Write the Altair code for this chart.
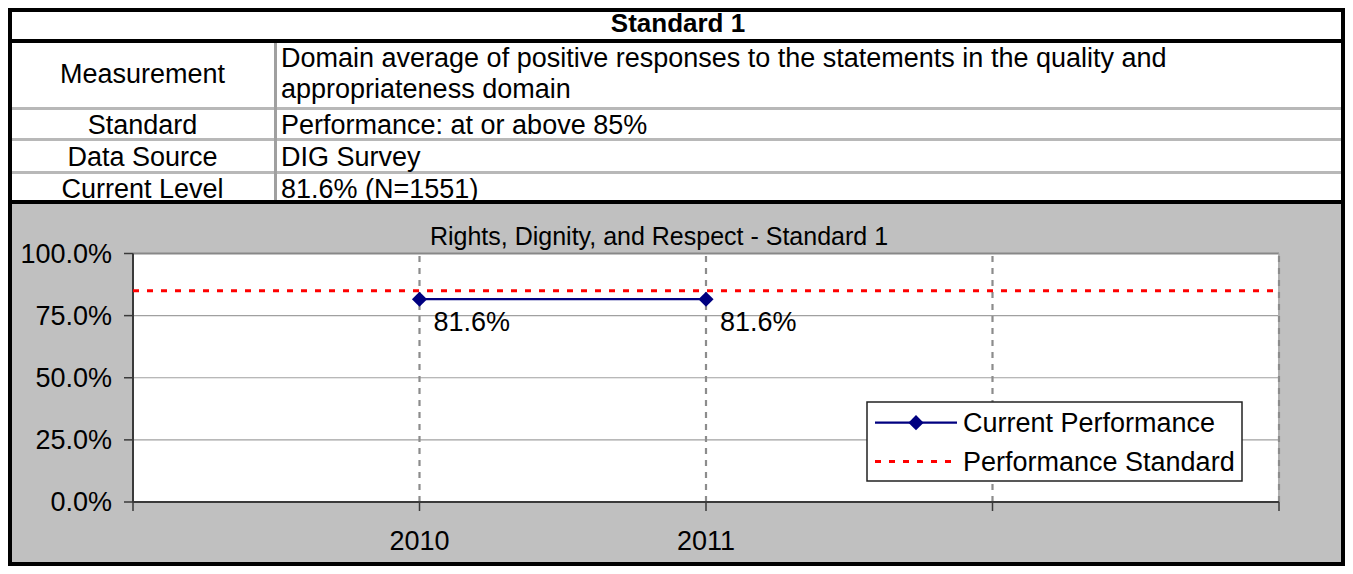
import altair as alt
import pandas as pd

# ---------------- data ----------------
table_title = "Standard 1"
row_labels = ["Measurement", "Standard", "Data Source", "Current Level"]
row_values = [
    "Domain average of positive responses to the statements in the quality and\nappropriateness domain",
    "Performance: at or above 85%",
    "DIG Survey",
    "81.6% (N=1551)",
]
chart_title = "Rights, Dignity, and Respect - Standard 1"
years = [2010, 2011]
current_performance = [0.816, 0.816]
performance_standard = 0.85
x_ticks = [2009, 2010, 2011, 2012, 2013]
x_label_years = [2010, 2011]
x_label_text = ["2010", "2011"]
y_ticks = [0.0, 0.25, 0.5, 0.75, 1.0]
series_names = ["Current Performance", "Performance Standard"]

# ---------------- layout ----------------
W, H = 1337, 558
FONT = "Liberation Sans"
FS = 27
NAVY = "#000080"
RED = "#ff0000"
X0, X1 = x_ticks[0], x_ticks[-1]

x_scale = alt.Scale(domain=[X0, X1], range=[125, 1271], nice=False, zero=False)
y_scale = alt.Scale(domain=[0, 1], range=[494, 245.5], nice=False, zero=False)

one = pd.DataFrame({"k": [0]})
perf = pd.DataFrame({"year": years, "value": current_performance})
yt = pd.DataFrame({"v": y_ticks})
ygrid = pd.DataFrame({"v": y_ticks[1:-1]})
xt = pd.DataFrame({"year": x_ticks})
xgrid = pd.DataFrame({"year": x_ticks[1:]})
xl = pd.DataFrame({"year": x_label_years, "label": x_label_text})


def XD(v):
    return alt.X(datum=v, type="quantitative", scale=x_scale, axis=None)


def YD(v):
    return alt.Y(datum=v, type="quantitative", scale=y_scale, axis=None)


def XF(f):
    return alt.X(f, type="quantitative", scale=x_scale, axis=None)


def YF(f):
    return alt.Y(f, type="quantitative", scale=y_scale, axis=None)


def box(x, x2, y, y2, color, **kw):
    return alt.Chart(one).mark_rect(color=color, **kw).encode(
        x=alt.value(x), x2=alt.value(x2), y=alt.value(y), y2=alt.value(y2)
    )


def label(text, x, y, align="left", size=FS, weight="normal", **kw):
    return alt.Chart(one).mark_text(
        align=align, baseline="middle", font=FONT, fontSize=size,
        fontWeight=weight, color="black", **kw
    ).encode(x=alt.value(x), y=alt.value(y), text=alt.value(text))


layers = []
# backgrounds
layers.append(box(0, W, 196, H, "#c0c0c0"))
layers.append(box(0, W, 0, 196, "white"))

# plot area
layers.append(alt.Chart(one).mark_rect(color="white").encode(
    x=XD(X0), x2=alt.X2(datum=X1), y=YD(0), y2=alt.Y2(datum=1)))
# horizontal gridlines
layers.append(alt.Chart(ygrid).mark_rule(color="#a0a0a0", strokeWidth=1.2).encode(
    y=YF("v"), x=XD(X0), x2=alt.X2(datum=X1)))
# top border of plot
layers.append(alt.Chart(one).mark_rule(color="#888888", strokeWidth=2).encode(
    y=YD(1), x=XD(X0), x2=alt.X2(datum=X1)))
# right border of plot (solid light)
layers.append(alt.Chart(one).mark_rule(color="#b0b0b0", strokeWidth=2).encode(
    x=XD(X1), y=YD(0), y2=alt.Y2(datum=1)))
# vertical dashed gridlines
layers.append(alt.Chart(xgrid).mark_rule(color="#8c8c8c", strokeWidth=2.2, strokeDash=[6, 6]).encode(
    x=XF("year"), y=YD(0), y2=alt.Y2(datum=1)))
# axes lines
layers.append(alt.Chart(one).mark_rule(color="#3a3a3a", strokeWidth=2).encode(
    x=XD(X0), y=YD(0), y2=alt.Y2(datum=1)))
layers.append(alt.Chart(one).mark_rule(color="#3a3a3a", strokeWidth=2).encode(
    y=YD(0), x=XD(X0), x2=alt.X2(datum=X1)))
# y ticks
layers.append(alt.Chart(yt).mark_rule(color="#3a3a3a", strokeWidth=1.5, x2Offset=-9).encode(
    y=YF("v"), x=XD(X0), x2=alt.X2(datum=X0)))
# x ticks
layers.append(alt.Chart(xt).mark_rule(color="#3a3a3a", strokeWidth=1.5, y2Offset=9).encode(
    x=XF("year"), y=YD(0), y2=alt.Y2(datum=0)))
# y labels
layers.append(alt.Chart(yt).mark_text(align="right", baseline="middle", dx=-21, dy=1,
                                      font=FONT, fontSize=FS, color="black").encode(
    x=XD(X0), y=YF("v"), text=alt.Text("v:Q", format=".1%")))
# x labels
layers.append(alt.Chart(xl).mark_text(align="center", baseline="middle", dy=39.5,
                                      font=FONT, fontSize=FS, color="black").encode(
    x=XF("year"), y=YD(0), text="label:N"))

# performance standard line
layers.append(alt.Chart(one).mark_rule(color=RED, strokeWidth=3, strokeDash=[6, 8]).encode(
    y=YD(performance_standard), x=XD(X0), x2=alt.X2(datum=X1)))
# current performance line + markers
layers.append(alt.Chart(perf).mark_line(color=NAVY, strokeWidth=2.2).encode(
    x=XF("year"), y=YF("value")))
layers.append(alt.Chart(perf).mark_point(shape="diamond", filled=True, size=230, color=NAVY, opacity=1).encode(
    x=XF("year"), y=YF("value")))
layers.append(alt.Chart(perf).mark_text(align="left", baseline="middle", dx=14, dy=23.5,
                                        font=FONT, fontSize=FS, color="black").encode(
    x=XF("year"), y=YF("value"), text=alt.Text("value:Q", format=".1%")))

# chart title
layers.append(label(chart_title, 651, 228.5, align="center", size=25))

# legend
layers.append(box(859, 1234, 394, 473, "white", stroke="#222222", strokeWidth=1.5))
layers.append(alt.Chart(one).mark_rule(color=NAVY, strokeWidth=2.2).encode(
    x=alt.value(867), x2=alt.value(949), y=alt.value(414.7)))
layers.append(alt.Chart(one).mark_point(shape="diamond", filled=True, size=230, color=NAVY, opacity=1).encode(
    x=alt.value(908), y=alt.value(414.7)))
layers.append(alt.Chart(one).mark_rule(color=RED, strokeWidth=3, strokeDash=[6, 8]).encode(
    x=alt.value(867), x2=alt.value(949), y=alt.value(453.5)))
layers.append(label(series_names[0], 955, 416))
layers.append(label(series_names[1], 955, 455))

# table grid lines
for y0 in (99, 130, 163):
    layers.append(box(0, W, y0, y0 + 3, "#b8b8b8"))
layers.append(box(266, 269, 35, 192, "#a0a0a0"))
layers.append(box(0, W, 31, 35, "black"))
layers.append(box(0, W, 192, 196, "black"))

# table text
layers.append(label(table_title, 670, 16, align="center", weight="bold", size=26))
label_y = [66.5, 118, 149.5, 181.5]
for txt, yy in zip(row_labels, label_y):
    layers.append(label(txt, 134.5, yy, align="center"))
value_y = [50.5, 118, 149.5, 181.5]
for txt, yy in zip(row_values, value_y):
    layers.append(label(txt, 273, yy, lineBreak="\n", lineHeight=31))

# outer border
layers.append(box(0, W, 0, 4, "black"))
layers.append(box(0, W, H - 4, H, "black"))
layers.append(box(0, 4, 0, H, "black"))
layers.append(box(W - 4, W, 0, H, "black"))

chart = alt.layer(*layers).properties(
    width=W, height=H, padding=0, autosize="none", background="white"
).configure_view(stroke=None)

chart.save("out.html", embed_options={"renderer": "svg", "actions": False})
